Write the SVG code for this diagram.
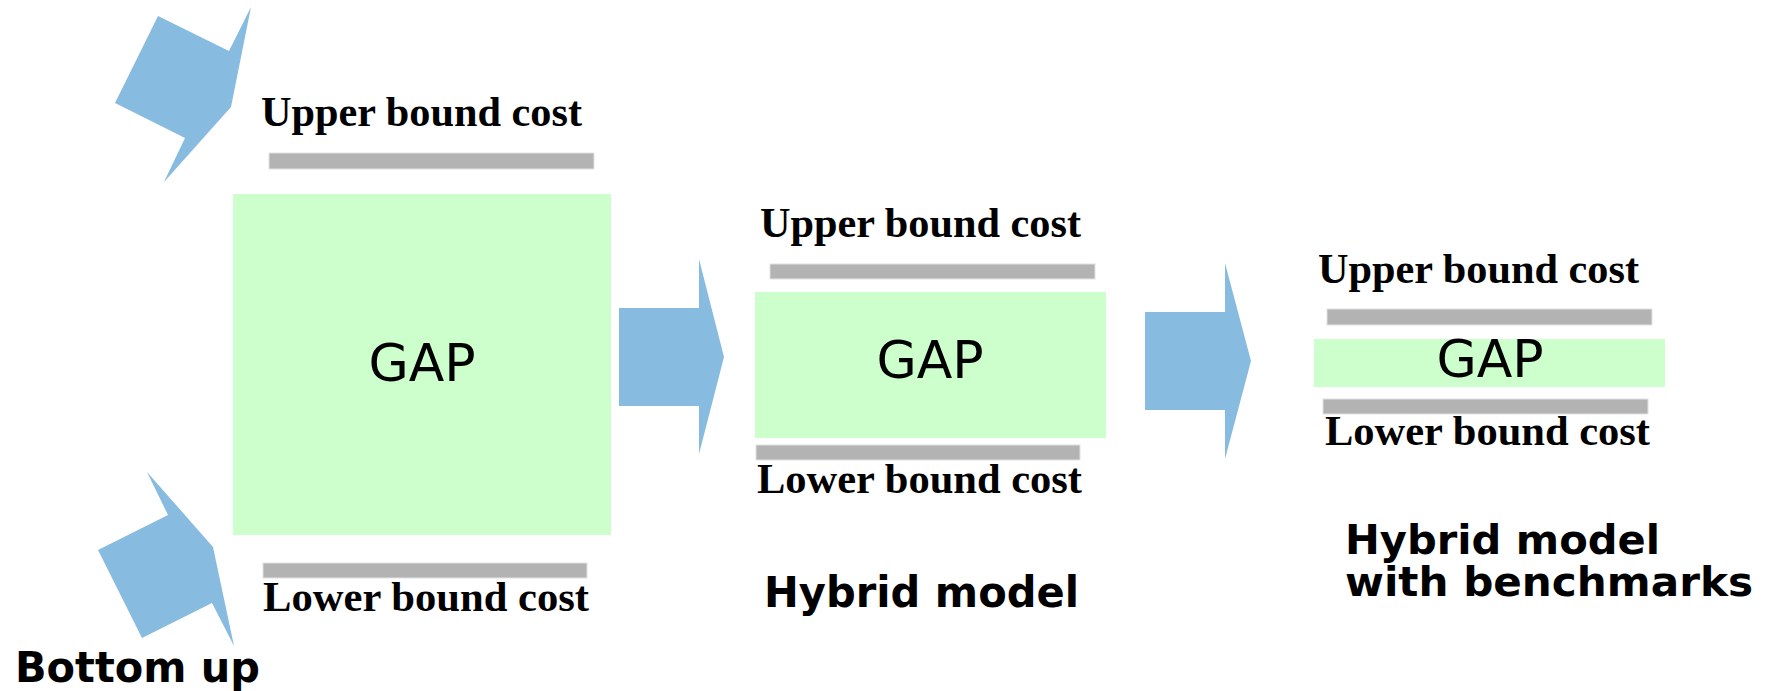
<svg xmlns="http://www.w3.org/2000/svg" width="1773" height="691" viewBox="0 0 1773 691">
  <style>
    .gap { fill: #ccffcc; }
    .bar { fill: #b3b3b3; stroke: #e2e2e2; stroke-width: 1; }
    .cost { font-family: "Liberation Serif", "Times New Roman", serif; font-weight: bold; font-size: 42px; fill: #000; }
    .gaptxt { font-family: "DejaVu Sans", Verdana, sans-serif; font-size: 52px; fill: #000; text-anchor: middle; }
    .caption { font-family: "DejaVu Sans", Verdana, sans-serif; font-weight: bold; font-size: 42px; fill: #000; }
    .caption2 { font-size: 40px; }
    .flow { fill: #88bbe0; }
  </style>
  <rect width="1773" height="691" fill="#ffffff"/>

  <!-- block arrows -->
  <g id="connectors">
    <polygon class="flow" points="158,16 229,51 251,7 231,107 164,182 185,138 115,103"/>
    <polygon class="flow" points="147,472 213,547 234,646 212,603 142,638 98,550 168,515"/>
    <polygon class="flow" points="619,308 699,308 699,259 724,357 699,454 699,406 619,406"/>
    <polygon class="flow" points="1145,312 1225,312 1225,263 1251,361 1225,459 1225,410 1145,410"/>
  </g>

  <!-- bottom-up model: wide gap -->
  <g id="bottom-up">
    <text class="cost" x="261" y="126" textLength="321" lengthAdjust="spacingAndGlyphs">Upper bound cost</text>
    <rect class="bar" x="269" y="153" width="325" height="16"/>
    <rect class="gap" x="233" y="194" width="378" height="341"/>
    <text class="gaptxt" x="422" y="381">GAP</text>
    <rect class="bar" x="263" y="563" width="324" height="15"/>
    <text class="cost" x="263" y="611" textLength="326" lengthAdjust="spacingAndGlyphs">Lower bound cost</text>
    <text class="caption" x="15" y="682" textLength="245" lengthAdjust="spacingAndGlyphs">Bottom up</text>
  </g>

  <!-- hybrid model: narrower gap -->
  <g id="hybrid">
    <text class="cost" x="760" y="237" textLength="321" lengthAdjust="spacingAndGlyphs">Upper bound cost</text>
    <rect class="bar" x="770" y="264" width="325" height="15"/>
    <rect class="gap" x="755" y="292" width="351" height="146"/>
    <text class="gaptxt" x="930" y="378">GAP</text>
    <rect class="bar" x="756" y="445" width="324" height="15"/>
    <text class="cost" x="757" y="493" textLength="325" lengthAdjust="spacingAndGlyphs">Lower bound cost</text>
    <text class="caption" x="764" y="607" textLength="315" lengthAdjust="spacingAndGlyphs">Hybrid model</text>
  </g>

  <!-- hybrid model with benchmarks: narrowest gap -->
  <g id="hybrid-benchmarks">
    <text class="cost" x="1318" y="283" textLength="321" lengthAdjust="spacingAndGlyphs">Upper bound cost</text>
    <rect class="bar" x="1327" y="309" width="325" height="16"/>
    <rect class="gap" x="1314" y="339" width="351" height="48"/>
    <text class="gaptxt" x="1490" y="377">GAP</text>
    <rect class="bar" x="1323" y="399" width="325" height="15"/>
    <text class="cost" x="1325" y="445" textLength="325" lengthAdjust="spacingAndGlyphs">Lower bound cost</text>
    <text class="caption caption2"><tspan x="1345" y="554" textLength="315" lengthAdjust="spacingAndGlyphs">Hybrid model</tspan><tspan x="1345" y="596" textLength="408" lengthAdjust="spacingAndGlyphs">with benchmarks</tspan></text>
  </g>
</svg>
